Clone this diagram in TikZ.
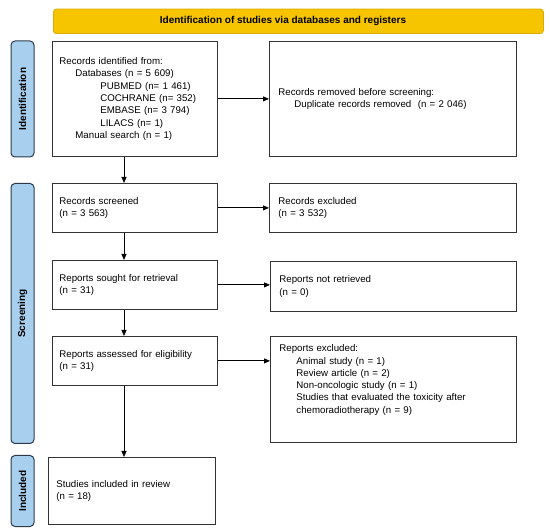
\documentclass[tikz,border=0pt]{standalone}
\usepackage{fontspec}
\setmainfont{Liberation Sans}
\usetikzlibrary{arrows.meta,calc}
\definecolor{hdrfill}{HTML}{F7C400}
\definecolor{hdrdraw}{HTML}{D9AC00}
\definecolor{sidefill}{HTML}{A8CFEE}
\definecolor{sidedraw}{HTML}{2B3A48}
\definecolor{boxdraw}{HTML}{333333}
\tikzset{
  txt/.style={font=\fontsize{9.7pt}{12.3pt}\selectfont},
  box/.style={draw=boxdraw, line width=0.8pt, fill=white, txt, align=left, anchor=north west, inner ysep=0pt},
  side/.style={draw=sidedraw, fill=sidefill, line width=1pt, rounded corners=4pt, anchor=north west},
  sidetext/.style={font=\fontsize{10pt}{11pt}\selectfont\bfseries, rotate=90},
  arr/.style={draw=black, line width=0.8pt, -{Triangle[length=6pt,width=5pt]}},
}
\newcommand{\ind}[1]{\hspace*{#1pt}}
\begin{document}
\begin{tikzpicture}[x=1pt,y=-1pt]
\useasboundingbox (0,0) rectangle (550,532);
% header
\node[draw=hdrdraw, fill=hdrfill, line width=0.8pt, rounded corners=3pt, anchor=north west,
      minimum width=490pt, minimum height=24.5pt, inner sep=0pt] (hdr) at (53,8.7) {};
\node[font=\fontsize{10pt}{11pt}\selectfont\bfseries] (hdrtxt) at (283,21) {Identification of studies via databases and registers};
% side labels
\node[side, minimum width=23pt, minimum height=116pt, inner sep=0pt] (sid) at (10.5,40.5) {};
\node[sidetext] (sidt) at (sid.center) {Identification};
\node[side, minimum width=23pt, minimum height=260pt, inner sep=0pt] (ssc) at (10.5,183) {};
\node[sidetext] (ssct) at (ssc.center) {Screening};
\node[side, minimum width=23pt, minimum height=71pt, inner sep=0pt] (sin) at (10.5,455) {};
\node[sidetext] (sint) at (sin.center) {Included};
% boxes
\node[box, minimum width=165pt, minimum height=115pt, text width=151pt, inner xsep=7pt] (ident) at (52,41)
{Records identified from:\\
\ind{16}Databases (n = 5 609)\\
\ind{41}PUBMED (n= 1 461)\\
\ind{41}COCHRANE (n= 352)\\
\ind{41}EMBASE (n= 3 794)\\
\ind{41}LILACS (n= 1)\\
\ind{16}Manual search (n = 1)};
\node[box, minimum width=247pt, minimum height=115pt, text width=229pt, inner xsep=9pt] (remov) at (269,41)
{Records removed before screening:\\
\ind{16}Duplicate records removed\ \ (n = 2 046)};
\node[box, minimum width=165pt, minimum height=49pt, text width=151pt, inner xsep=7pt] (scr) at (52,183)
{Records screened\\(n = 3 563)};
\node[box, minimum width=247pt, minimum height=49pt, text width=229pt, inner xsep=9pt] (exc) at (269,183)
{Records excluded\\(n = 3 532)};
\node[box, minimum width=165pt, minimum height=49pt, text width=151pt, inner xsep=7pt] (sought) at (52,260)
{Reports sought for retrieval\\(n = 31)};
\node[box, minimum width=246pt, minimum height=50pt, text width=228pt, inner xsep=9pt] (notret) at (270,261)
{Reports not retrieved\\(n = 0)};
\node[box, minimum width=165pt, minimum height=49pt, text width=151pt, inner xsep=7pt] (assess) at (52,336)
{Reports assessed for eligibility\\(n = 31)};
\node[box, minimum width=246pt, minimum height=106pt, text width=228pt, inner xsep=9pt] (exc2) at (270,336)
{Reports excluded:\\
\ind{17}Animal study (n = 1)\\
\ind{17}Review article (n = 2)\\
\ind{17}Non-oncologic study (n = 1)\\
\ind{17}Studies that evaluated the toxicity after\\
\ind{17}chemoradiotherapy (n = 9)\\[8.6pt]\mbox{}};
\node[box, minimum width=167pt, minimum height=67pt, text width=151pt, inner xsep=8pt] (incl) at (48,457)
{Studies included in review\\(n = 18)};
% arrows
\coordinate (ax) at (124,0);
\draw[arr] (ident.south -| ax) -- (scr.north -| ax);
\draw[arr] (scr.south -| ax) -- (sought.north -| ax);
\draw[arr] (sought.south -| ax) -- (assess.north -| ax);
\draw[arr] (assess.south -| ax) -- (incl.north -| ax);
\draw[arr] (ident.east) -- (remov.west |- ident.east);
\draw[arr] (scr.east) -- (exc.west |- scr.east);
\draw[arr] (sought.east) -- (notret.west |- sought.east);
\draw[arr] (assess.east) -- (exc2.west |- assess.east);
\end{tikzpicture}
\end{document}
